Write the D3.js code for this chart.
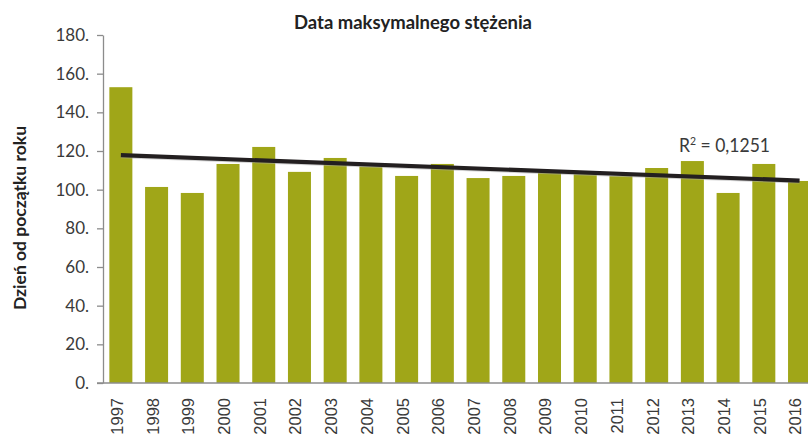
<!DOCTYPE html>
<html><head><meta charset="utf-8">
<script src="https://cdn.jsdelivr.net/npm/d3@7"></script>
<style>body{margin:0;background:#fff;overflow:hidden}</style>
</head><body>
<svg id="c" width="808" height="437"></svg>
<script>
const years = ["1997","1998","1999","2000","2001","2002","2003","2004","2005","2006","2007","2008","2009","2010","2011","2012","2013","2014","2015","2016"];
const values = [153,101.4,98.3,113.3,122.1,109.2,116.4,112,107.1,113.3,106,107.1,109,108,107,111.2,114.8,98.3,113.3,104.5];
const yTicks = [0,20,40,60,80,100,120,140,160,180];
const title = "Data maksymalnego stężenia";
const yTitle = "Dzień od początku roku";
const r2Label = "0,1251";

const svg = d3.select("#c");
const x = d3.scaleBand().domain(years).range([103, 817.4]).paddingInner(0.356).paddingOuter(0.178);
const y = d3.scaleLinear().domain([0,180]).range([383,35]);

// bars
svg.append("g").selectAll("rect").data(values).join("rect")
  .attr("x",(d,i)=>x(years[i])).attr("width",x.bandwidth())
  .attr("y",d=>y(d)).attr("height",d=>y(0)-y(d)).attr("fill","#a0a618");

// y axis
const ya = svg.append("g").attr("transform","translate(103,0)")
  .call(d3.axisLeft(y).tickValues(yTicks).tickSize(6).tickSizeOuter(0).tickPadding(8).tickFormat(d=>d+"."));
ya.select(".domain").attr("stroke","#8c8c8c").attr("stroke-width",1.3);
ya.selectAll(".tick line").attr("stroke","#8c8c8c").attr("stroke-width",1.3);
ya.selectAll("text").attr("font-family","Lato, 'Open Sans', sans-serif").attr("font-size",17).attr("fill","#3a3a3a");

// x axis
const xa = svg.append("g").attr("transform","translate(0,383)")
  .call(d3.axisBottom(x).tickSize(0).tickPadding(0));
xa.select(".domain").attr("d","M97,0H808").attr("stroke","#8c8c8c").attr("stroke-width",1.5);
xa.selectAll("text").attr("font-family","'Liberation Sans', Arial, sans-serif").attr("font-size",16.5).attr("fill","#3a3a3a")
  .attr("transform","rotate(-90)").attr("text-anchor","end").attr("dy","0.36em").attr("x",-15).attr("y",-4);

// trend line (linear regression)
const n = values.length;
const xs = d3.range(n);
const mx = d3.mean(xs), my = d3.mean(values);
const slope = d3.sum(xs,(v,i)=>(v-mx)*(values[i]-my))/d3.sum(xs,v=>(v-mx)*(v-mx));
const icpt = my - slope*mx;
const cx = i => x(years[i]) + x.bandwidth()/2;
svg.append("line").attr("x1",cx(0)).attr("x2",cx(n-1))
  .attr("y1",y(icpt)+1).attr("y2",y(icpt+slope*(n-1))+1)
  .attr("stroke","#aaa").attr("stroke-width",4).attr("opacity",0.5);
svg.append("line").attr("x1",cx(0)).attr("x2",cx(n-1))
  .attr("y1",y(icpt)).attr("y2",y(icpt+slope*(n-1)))
  .attr("stroke","#231f20").attr("stroke-width",4.2);

// R2 label
const t = svg.append("text").attr("x",679).attr("y",152).attr("font-family","Lato, 'Open Sans', sans-serif")
  .attr("font-size",18.5).attr("fill","#3a3a3a");
t.append("tspan").text("R");
t.append("tspan").text("2").attr("font-size",11).attr("dy",-7);
t.append("tspan").text(" = " + r2Label).attr("dy",7);
t.attr("textLength",91).attr("lengthAdjust","spacingAndGlyphs");

// title
svg.append("text").attr("x",413).attr("y",29).attr("text-anchor","middle")
  .attr("font-family","Lato, 'Open Sans', sans-serif").attr("font-weight","bold").attr("font-size",18.5)
  .attr("textLength",238).attr("lengthAdjust","spacingAndGlyphs").attr("fill","#222").text(title);

// y title
svg.append("text").attr("transform","translate(26,218) rotate(-90)").attr("text-anchor","middle")
  .attr("font-family","Lato, 'Open Sans', sans-serif").attr("font-weight","bold").attr("font-size",17.5)
  .attr("fill","#222").text(yTitle);
</script>
</body></html>
